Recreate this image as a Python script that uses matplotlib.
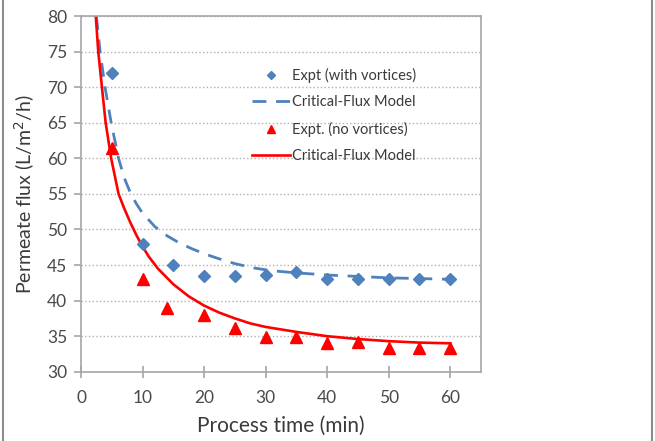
import matplotlib.pyplot as plt
from matplotlib.lines import Line2D

# Experimental data
time_vort = [5, 10, 15, 20, 25, 30, 35, 40, 45, 50, 55, 60]
flux_vort = [72.0, 48.0, 45.0, 43.5, 43.5, 43.6, 44.0, 43.1, 43.0, 43.0, 43.0, 43.0]
time_novort = [5, 10, 14, 20, 25, 30, 35, 40, 45, 50, 55, 60]
flux_novort = [61.4, 43.1, 39.0, 38.0, 36.1, 34.9, 34.9, 34.1, 34.2, 33.3, 33.3, 33.3]

# Critical-flux model curves
model_vort_t = [2.5, 3.1, 3.9, 4.9, 6.1, 7, 8, 9, 10, 12, 14, 16, 18, 20, 22, 25, 28,
                31, 35, 40, 45, 50, 55, 60]
model_vort_f = [80, 75, 70, 65, 60, 57.3, 55.2, 53.6, 52.3, 50.4, 49.1, 48.1, 47.3, 46.6,
                46.0, 45.2, 44.6, 44.2, 43.9, 43.6, 43.4, 43.2, 43.1, 43.0]
model_novort_t = [2.4, 2.8, 3.4, 4.0, 4.9, 6.1, 7, 8, 9, 10, 11, 12.5, 15, 17.5, 20, 22.5,
                  25, 27.5, 30, 35, 40, 45, 50, 55, 60]
model_novort_f = [80, 75, 70, 65, 60, 55, 53.0, 51.0, 49.2, 47.6, 46.2, 44.5, 42.3, 40.6,
                  39.3, 38.3, 37.5, 36.8, 36.3, 35.6, 35.0, 34.6, 34.3, 34.1, 34.0]

xticks = [0, 10, 20, 30, 40, 50, 60]
yticks = [30, 35, 40, 45, 50, 55, 60, 65, 70, 75, 80]

blue = '#4F81BD'
red = '#FF0000'
grey = '#4a4a4a'
plt.rcParams['font.family'] = ['Lato', 'DejaVu Sans']

fig = plt.figure(figsize=(6.55, 4.41), dpi=100)
ax = fig.add_axes([0.1237, 0.157, 0.6107, 0.8066])

# side borders of the image
fig.add_artist(Line2D([0.004, 0.004], [0, 1], color='#8c8c8c', lw=1.5))
fig.add_artist(Line2D([0.996, 0.996], [0, 1], color='#8c8c8c', lw=1.5))

dash = (0, (5, 3.5))
ax.plot(model_vort_t, model_vort_f, color=blue, lw=2.0, ls=dash, zorder=2)
ax.plot(model_novort_t, model_novort_f, color=red, lw=1.9, zorder=2)
ax.plot(time_vort, flux_vort, 'D', color=blue, ms=6.5, zorder=3)
ax.plot(time_novort, flux_novort, '^', color=red, ms=9, zorder=3)

ax.set_xlim(0, 65)
ax.set_ylim(30, 80)
ax.set_xticks(xticks)
ax.set_yticks(yticks)
ax.yaxis.grid(True, ls=':', color='#b0b0b0', lw=1)
ax.set_axisbelow(True)
for s in ax.spines.values():
    s.set_color('#a6a6a6')
    s.set_linewidth(1.2)
ax.tick_params(colors='#a6a6a6', labelcolor=grey, labelsize=12.5, length=5, width=1.2,
               direction='out')
ax.tick_params(axis='x', direction='inout', length=8, pad=9)
ax.tick_params(axis='y', pad=5)

ax.set_xlabel('Process time (min)', fontsize=15, color='#3a3a3a', labelpad=7)
ax.set_ylabel('Permeate flux (L/m$^2$/h)', fontsize=14, color='#3a3a3a', labelpad=7)

handles = [
    Line2D([], [], ls='none', marker='D', color=blue, ms=4.5),
    Line2D([], [], color=blue, lw=2.0, ls=dash),
    Line2D([], [], ls='none', marker='^', color=red, ms=6),
    Line2D([], [], color=red, lw=1.9),
]
labels = ['Expt (with vortices)', 'Critical-Flux Model', 'Expt. (no vortices)', 'Critical-Flux Model']
ax.legend(handles, labels, loc='upper left', bbox_to_anchor=(0.4125, 0.871), frameon=False,
          fontsize=10.5, labelcolor='#3a3a3a', handlelength=2.6, handletextpad=0.15,
          labelspacing=0.85, borderaxespad=0)

fig.savefig('out.png', dpi=100)
